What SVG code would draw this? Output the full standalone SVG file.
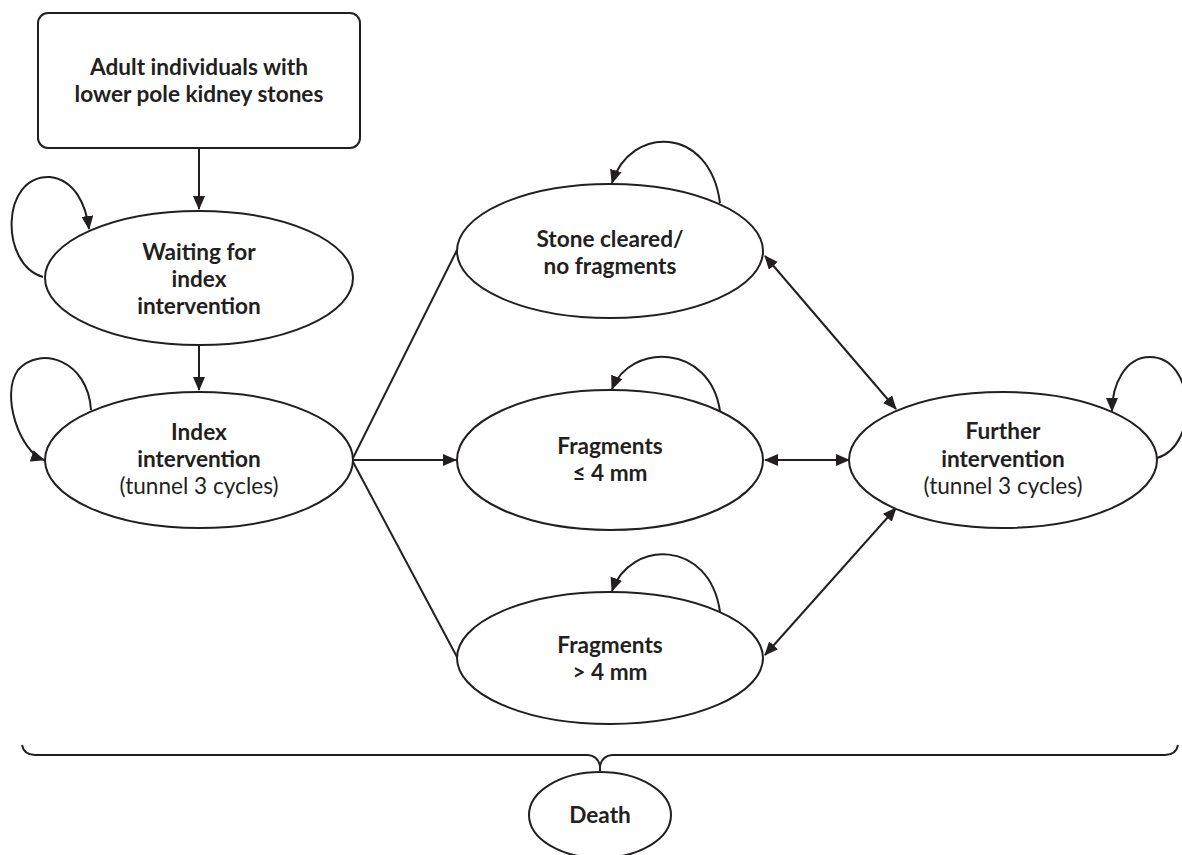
<svg xmlns="http://www.w3.org/2000/svg" width="1182" height="855" viewBox="0 0 1182 855">
<style>
.shape{fill:#fff;stroke:#231f20;stroke-width:2}
.edge{fill:none;stroke:#231f20;stroke-width:2}
text{font-family:Lato,"Open Sans","Liberation Sans",sans-serif;font-size:22.6px;fill:#231f20;text-anchor:middle}
.b{font-weight:bold}
</style>
<defs>
<marker id="ah" markerUnits="userSpaceOnUse" markerWidth="14" markerHeight="12" refX="13" refY="6" orient="auto-start-reverse" viewBox="0 0 14 12">
<path d="M0,0 L14,6 L0,12 z" fill="#231f20"/>
</marker>
</defs>
<g id="connectors">
<path class="edge" d="M199 148 L199 209" marker-end="url(#ah)"/>
<path class="edge" d="M199 345 L199 390" marker-end="url(#ah)"/>
<path class="edge" d="M43 277 C 0 265, 0 175, 50 177 C 75 180, 86 205, 89 229" marker-end="url(#ah)"/>
<path class="edge" d="M91 410 C 88 360, 40 345, 18 370 C 0 395, 20 452, 44 460" marker-end="url(#ah)"/>
<path class="edge" d="M352 460 L457 250"/>
<path class="edge" d="M352 460 L456 460" marker-end="url(#ah)"/>
<path class="edge" d="M352 460 L457 657"/>
<path class="edge" d="M720 203 C 710 125, 630 125, 612 183" marker-end="url(#ah)"/>
<path class="edge" d="M720 411 C 710 343, 630 343, 612 389" marker-end="url(#ah)"/>
<path class="edge" d="M720 612 C 710 539, 630 539, 612 591" marker-end="url(#ah)"/>
<path class="edge" d="M765 256 L896 409" marker-start="url(#ah)" marker-end="url(#ah)"/>
<path class="edge" d="M765 460 L849 460" marker-start="url(#ah)" marker-end="url(#ah)"/>
<path class="edge" d="M765 655 L896 508" marker-start="url(#ah)" marker-end="url(#ah)"/>
<path class="edge" d="M1157 458 C 1200 445, 1195 357, 1150 357 C 1125 357, 1112 385, 1112 411" marker-end="url(#ah)"/>
<path class="edge" d="M22 745 Q 24 755 35 755 L 588 755 Q 598 756 600 766 Q 602 756 612 755 L 1165 755 Q 1176 755 1178 745 M600 766 L600 772"/>
</g>
<g id="start">
<rect class="shape" x="38" y="13" width="322" height="135" rx="10"/>
<text class="b" x="199" y="75">Adult individuals with</text>
<text class="b" x="199" y="102">lower pole kidney stones</text>
</g>
<g id="waiting">
<ellipse class="shape" cx="199" cy="278" rx="154" ry="67"/>
<text class="b" x="199" y="260">Waiting for</text>
<text class="b" x="199" y="287">index</text>
<text class="b" x="199" y="314">intervention</text>
</g>
<g id="index">
<ellipse class="shape" cx="199" cy="460" rx="154" ry="68"/>
<text class="b" x="199" y="440">Index</text>
<text class="b" x="199" y="467">intervention</text>
<text x="199" y="494">(tunnel 3 cycles)</text>
</g>
<g id="stone-cleared">
<ellipse class="shape" cx="610" cy="251" rx="153" ry="67"/>
<text class="b" x="610" y="247">Stone cleared/</text>
<text class="b" x="610" y="274">no fragments</text>
</g>
<g id="fragments-small">
<ellipse class="shape" cx="610" cy="460" rx="153" ry="70"/>
<text class="b" x="610" y="454">Fragments</text>
<text class="b" x="610" y="481">≤ 4 mm</text>
</g>
<g id="fragments-large">
<ellipse class="shape" cx="610" cy="658" rx="153" ry="66"/>
<text class="b" x="610" y="653">Fragments</text>
<text class="b" x="610" y="680">&gt; 4 mm</text>
</g>
<g id="further">
<ellipse class="shape" cx="1003" cy="460" rx="154" ry="68"/>
<text class="b" x="1003" y="439">Further</text>
<text class="b" x="1003" y="467">intervention</text>
<text x="1003" y="494">(tunnel 3 cycles)</text>
</g>
<g id="death">
<ellipse class="shape" cx="600" cy="815" rx="71" ry="43"/>
<text class="b" x="600" y="823">Death</text>
</g>
</svg>
